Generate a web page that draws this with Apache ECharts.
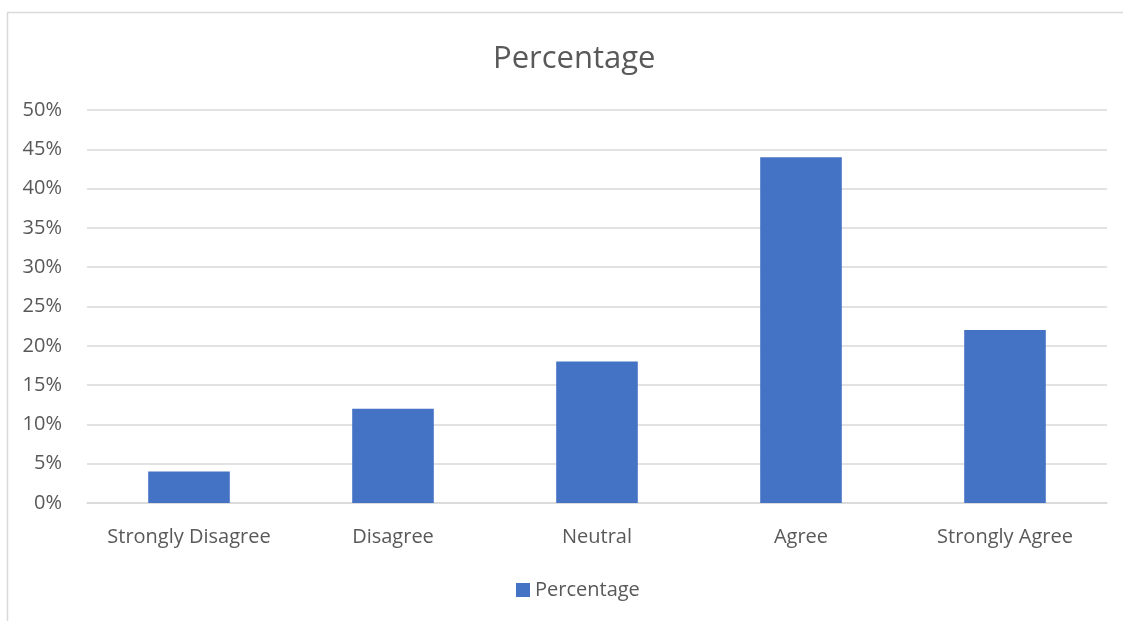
<!DOCTYPE html>
<html><head><meta charset="utf-8">
<script src="https://cdn.jsdelivr.net/npm/echarts@6/dist/echarts.min.js"></script>
<style>html,body{margin:0;padding:0;background:#fff;}#c{width:1123px;height:621px;}</style>
</head><body><div id="c"></div>
<script>
const categories = ['Strongly Disagree', 'Disagree', 'Neutral', 'Agree', 'Strongly Agree'];
const percentages = [4, 12, 18, 44, 22];
const seriesName = 'Percentage';
const titleText = 'Percentage';

const chart = echarts.init(document.getElementById('c'));
const font = 'Open Sans';
chart.setOption({
  animation: false,
  graphic: [{type: 'rect', left: 5, top: 10, shape: {width: 1200, height: 700}, style: {fill: 'none', stroke: '#d9d9d9', lineWidth: 1.5}, z: -1}],
  title: {text: titleText, left: 488, top: 39, textStyle: {fontFamily: font, fontSize: 31, fontWeight: 'normal', color: '#595959'}},
  legend: {bottom: 16, left: 511, itemWidth: 14, itemHeight: 14, icon: 'rect',
    textStyle: {fontFamily: font, fontSize: 20, color: '#595959'}},
  grid: {left: 87, right: 16, top: 110, bottom: 118, containLabel: false},
  xAxis: {type: 'category', data: categories,
    axisLine: {lineStyle: {color: '#d9d9d9', width: 1.5}}, axisTick: {show: false},
    axisLabel: {interval: 0, fontFamily: font, fontSize: 20, color: '#595959', margin: 24}},
  yAxis: {type: 'value', min: 0, max: 50, interval: 5,
    axisLine: {show: false}, axisTick: {show: false},
    splitLine: {lineStyle: {color: '#d9d9d9', width: 1.5}},
    axisLabel: {fontFamily: font, fontSize: 20, color: '#595959', margin: 25, formatter: '{value}%'}},
  series: [{name: seriesName, type: 'bar', data: percentages, barWidth: '40%', itemStyle: {color: '#4472C4'}}]
});
</script></body></html>
